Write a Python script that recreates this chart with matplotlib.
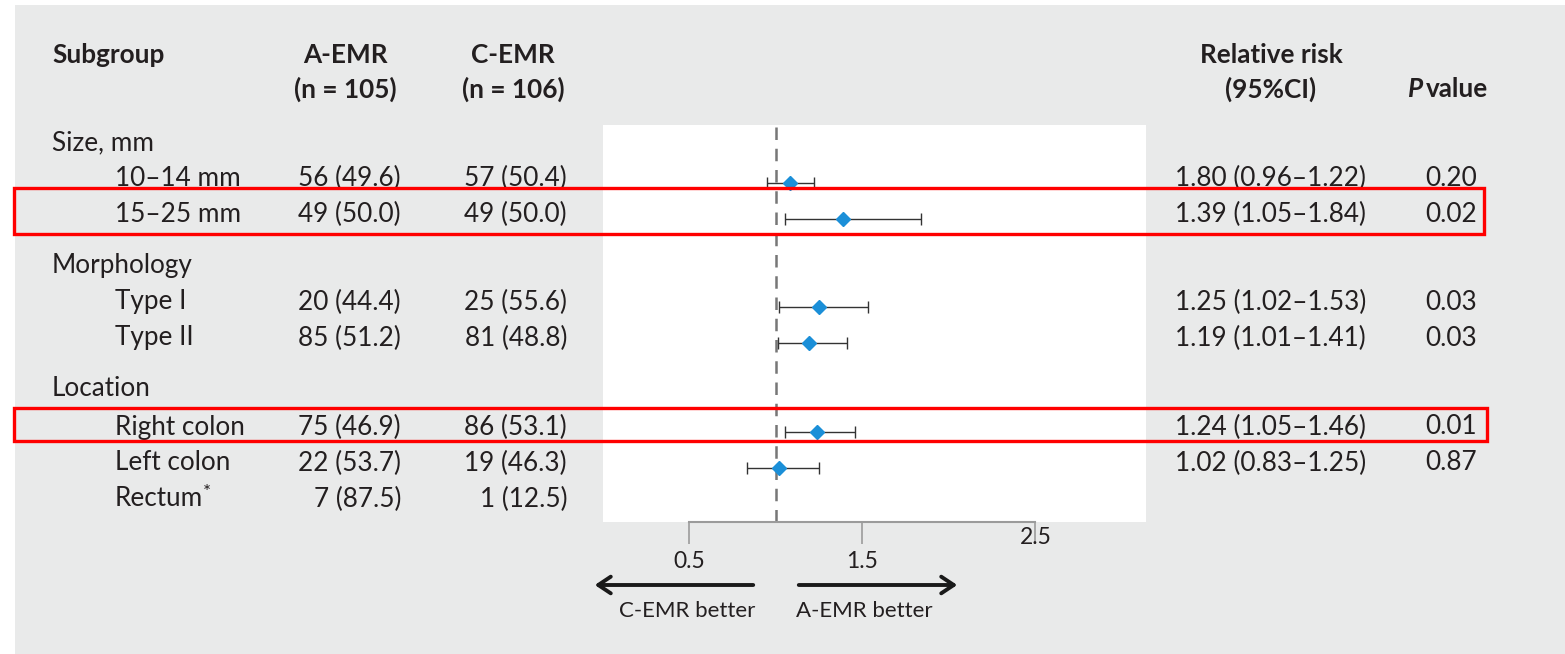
import matplotlib.pyplot as plt
from matplotlib.patches import Rectangle

plt.rcParams['font.family'] = ['Lato', 'DejaVu Sans']

# table content
labels = ['Size, mm', '10\u201314 mm', '15\u201325 mm',
          'Morphology', 'Type I', 'Type II',
          'Location', 'Right colon', 'Left colon', 'Rectum']
is_group = [True, False, False, True, False, False, True, False, False, False]
a_emr = ['', '56 (49.6)', '49 (50.0)', '', '20 (44.4)', '85 (51.2)', '', '75 (46.9)', '22 (53.7)', '7 (87.5)']
c_emr = ['', '57 (50.4)', '49 (50.0)', '', '25 (55.6)', '81 (48.8)', '', '86 (53.1)', '19 (46.3)', '1 (12.5)']
rr_text = ['', '1.80 (0.96\u20131.22)', '1.39 (1.05\u20131.84)', '', '1.25 (1.02\u20131.53)',
           '1.19 (1.01\u20131.41)', '', '1.24 (1.05\u20131.46)', '1.02 (0.83\u20131.25)', '']
p_text = ['', '0.20', '0.02', '', '0.03', '0.03', '', '0.01', '0.87', '']

# plotted estimates (read from the markers)
rr = [None, 1.08, 1.39, None, 1.25, 1.19, None, 1.24, 1.02, None]
lo = [None, 0.95, 1.05, None, 1.02, 1.01, None, 1.05, 0.83, None]
hi = [None, 1.22, 1.84, None, 1.53, 1.41, None, 1.46, 1.25, None]

# layout (pixels from top of the 1565x654 canvas)
row_y = [143, 178, 214, 265, 302, 338, 389, 427, 463, 499]
W, H = 1565, 654
txt = '#231f20'
fs = 18.8

fig = plt.figure(figsize=(W / 100, H / 100), dpi=100)
fig.patch.set_facecolor('white')

bg = fig.add_axes([0, 0, 1, 1])
bg.set_xlim(0, W)
bg.set_ylim(H, 0)
bg.axis('off')
bg.add_patch(Rectangle((15, 5), W - 15, H - 5, facecolor='#e9eaea', edgecolor='none', zorder=0))

# headers
hdr = dict(fontsize=fs, fontweight='bold', color=txt, va='center')
bg.text(52, 55, 'Subgroup', ha='left', **hdr)
bg.text(345, 55, 'A-EMR', ha='center', **hdr)
bg.text(345, 89, '(n = 105)', ha='center', **hdr)
bg.text(513, 55, 'C-EMR', ha='center', **hdr)
bg.text(513, 89, '(n = 106)', ha='center', **hdr)
bg.text(1271, 55, 'Relative risk', ha='center', **hdr)
bg.text(1271, 89, '(95%CI)', ha='center', **hdr)
bg.text(1408, 89, 'P', ha='left', fontstyle='italic', **hdr)
bg.text(1426, 89, 'value', ha='left', **hdr)

for i, lab in enumerate(labels):
    y = row_y[i]
    x = 52 if is_group[i] else 115
    if lab == 'Rectum':
        bg.text(x, y, 'Rectum', fontsize=fs, color=txt, va='center', ha='left')
        bg.text(203, y - 6, '*', fontsize=fs - 5, color=txt, va='center', ha='left')
    else:
        bg.text(x, y, lab, fontsize=fs, color=txt, va='center', ha='left')
    bg.text(401, y, a_emr[i], fontsize=fs, color=txt, va='center', ha='right')
    bg.text(567, y, c_emr[i], fontsize=fs, color=txt, va='center', ha='right')
    bg.text(1175, y, rr_text[i], fontsize=fs, color=txt, va='center', ha='left')
    bg.text(1477, y, p_text[i], fontsize=fs, color=txt, va='center', ha='right')

# forest panel
x0, x1, y0, y1 = 603, 1146, 125, 522
ax = fig.add_axes([x0 / W, 1 - y1 / H, (x1 - x0) / W, (y1 - y0) / H])
ax.set_facecolor('white')
ax.set_xlim(0.0, 3.14)
ax.set_ylim(y1, y0)
for s in ['top', 'right', 'left']:
    ax.spines[s].set_visible(False)
ax.spines['bottom'].set_bounds(0.5, 2.5)
ax.spines['bottom'].set_color('#9b9b9b')
ax.spines['bottom'].set_linewidth(1.5)
ax.set_yticks([])
ax.set_xticks([0.5, 1.5, 2.5])
ax.set_xticklabels(['0.5', '1.5', ''])
ax.tick_params(axis='x', direction='out', length=16, width=1.2, color='#9b9b9b',
               labelsize=16.5, labelcolor=txt, pad=5)
ax.text(2.5, -0.04, '2.5', transform=ax.get_xaxis_transform(), fontsize=16.5,
        color=txt, ha='center', va='center')
ax.axvline(1.0, color='#777777', lw=1.8, ls=(0, (5, 3.5)), zorder=1)

for i in range(len(labels)):
    if rr[i] is None:
        continue
    y = row_y[i] + 5
    ax.errorbar(rr[i], y, xerr=[[rr[i] - lo[i]], [hi[i] - rr[i]]], fmt='none',
                ecolor='#333333', elinewidth=1.0, capsize=4, capthick=1.0, zorder=2)
    ax.plot(rr[i], y, marker='D', markersize=7.5, color='#1b8fd8', mec='#1b8fd8', zorder=3)

# direction arrows
arrow_kw = dict(arrowstyle='->,head_length=0.9,head_width=0.6', color='#1a1a1a', lw=2.8)
bg.annotate('', xy=(592, 585), xytext=(756, 585), arrowprops=arrow_kw, zorder=5)
bg.annotate('', xy=(960, 585), xytext=(796, 585), arrowprops=arrow_kw, zorder=5)
bg.text(687, 611, 'C-EMR better', fontsize=16, color=txt, ha='center', va='center')
bg.text(864, 611, 'A-EMR better', fontsize=16, color=txt, ha='center', va='center')

# highlight boxes
ov = fig.add_axes([0, 0, 1, 1], facecolor='none')
ov.set_xlim(0, W)
ov.set_ylim(H, 0)
ov.axis('off')
ov.add_patch(Rectangle((14, 188), 1470, 46, fill=False, edgecolor='#ff0000', lw=2.4))
ov.add_patch(Rectangle((14, 408), 1473, 33, fill=False, edgecolor='#ff0000', lw=2.4))

fig.savefig('out.png', dpi=100)
